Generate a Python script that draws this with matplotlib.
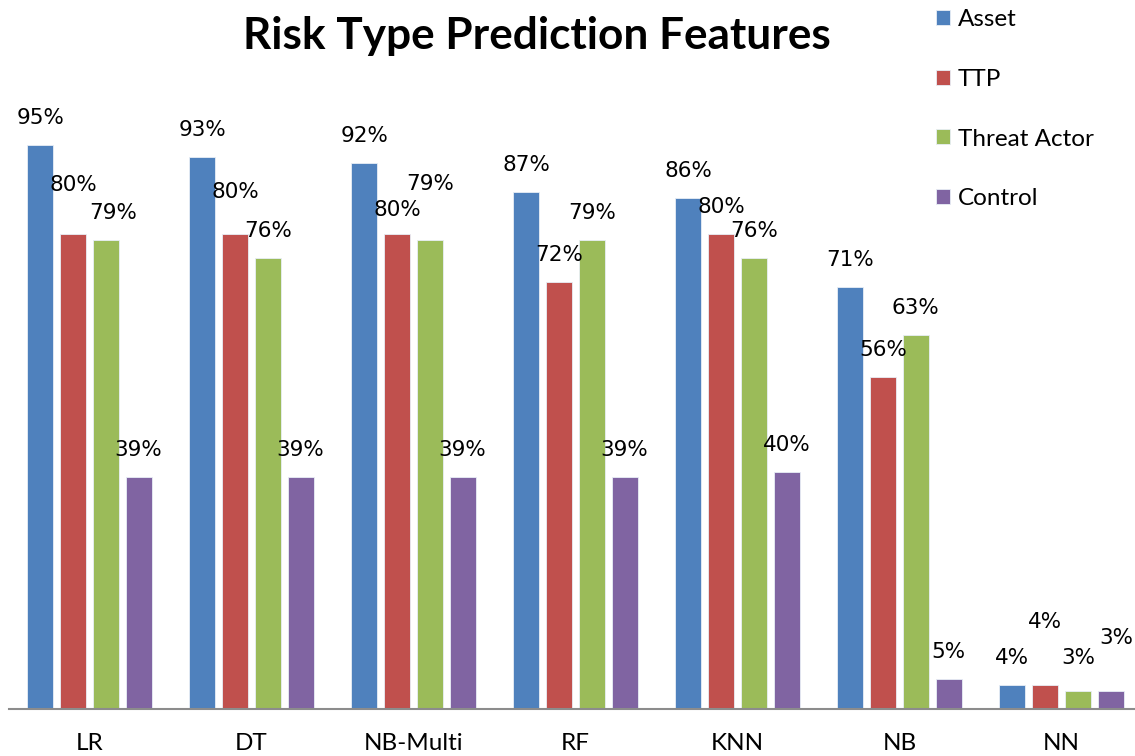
import matplotlib
matplotlib.use("Agg")
import matplotlib.pyplot as plt
import numpy as np

categories = ["LR", "DT", "NB-Multi", "RF", "KNN", "NB", "NN"]
series_names = ["Asset", "TTP", "Threat Actor", "Control"]
asset = [95, 93, 92, 87, 86, 71, 4]
ttp = [80, 80, 80, 72, 80, 56, 4]
threat_actor = [79, 76, 79, 79, 76, 63, 3]
control = [39, 39, 39, 39, 40, 5, 3]
series_values = [asset, ttp, threat_actor, control]
colors = ["#4F81BD", "#C0504D", "#9BBB59", "#8064A2"]

# label placement tweaks (pixels): (series index, category index) -> (dx, extra dy)
label_tweaks = {
    (1, 0): (0, 22), (2, 0): (7, 0),
    (1, 1): (0, 15),
    (1, 2): (0, -3), (2, 2): (0, 29),
    (1, 6): (0, 36), (2, 6): (0, 6), (3, 6): (6, 26),
}

W, H = 1135, 756
fig = plt.figure(figsize=(W / 100, H / 100), dpi=100)
left = 8.5 / W
bottom = (H - 709) / H
top = (H - 115.3) / H
ax = fig.add_axes([left, bottom, 1134 / W, top - bottom])

x = np.arange(len(categories))
pitch = 32.7 / 162
width = 26 / 162
for i, (name, vals, c) in enumerate(zip(series_names, series_values, colors)):
    pos = x + (i - 1.5) * pitch
    ax.bar(pos, vals, width, color=c, label=name, edgecolor="#e8eef6", linewidth=0.6, zorder=2)
    for j, (p, v) in enumerate(zip(pos, vals)):
        dx, ddy = label_tweaks.get((i, j), (0, 0))
        ax.annotate(f"{v}%", (p, v), xytext=(dx, 27 + ddy), textcoords="offset pixels",
                    ha="center", va="center", fontsize=15.5, family="DejaVu Sans", color="black")

ax.set_xlim(-0.5, len(categories) - 0.5)
ax.set_ylim(0, 100)
ax.set_xticks(x)
ax.set_xticklabels(categories, fontsize=17.5, family="Lato")
ax.tick_params(axis="x", length=0, pad=17)
ax.set_yticks([])
for s in ["top", "right", "left"]:
    ax.spines[s].set_visible(False)
ax.spines["bottom"].set_color("#8c8c8c")
ax.spines["bottom"].set_linewidth(1.5)

fig.text(537 / W, 1 - 36 / H, "Risk Type Prediction Features", ha="center", va="center",
         fontsize=31.8, fontweight="bold", family="Lato")

leg = fig.legend(loc="upper left", bbox_to_anchor=(926 / W, 1 + 1 / H), frameon=False,
                 prop={"family": "Lato", "size": 17.5}, handlelength=0.57, handleheight=0.57,
                 handletextpad=0.35, labelspacing=1.6, borderaxespad=0)

fig.savefig("out.png", dpi=100)
